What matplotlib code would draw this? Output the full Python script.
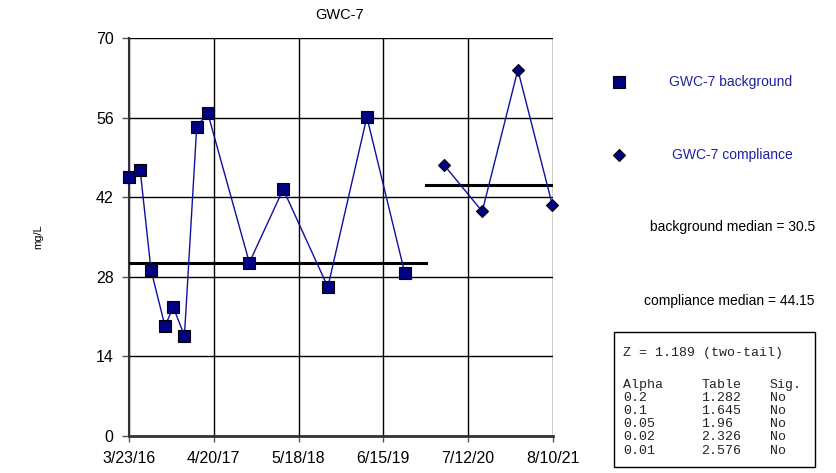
import matplotlib
matplotlib.use("Agg")
import matplotlib.pyplot as plt
from datetime import datetime

plt.rcParams['font.family'] = ['Liberation Sans', 'DejaVu Sans']

# background samples
bg_dates = ["2016-03-23", "2016-05-14", "2016-07-03", "2016-09-06", "2016-10-14",
            "2016-12-05", "2017-01-31", "2017-03-23", "2017-10-02", "2018-03-08",
            "2018-10-01", "2019-03-31", "2019-09-23"]
bg_vals = [45.5, 46.7, 29.2, 19.3, 22.7, 17.6, 54.4, 56.8, 30.5, 43.4, 26.2, 56.1, 28.6]

# compliance samples
cp_dates = ["2020-03-22", "2020-09-16", "2021-02-28", "2021-08-07"]
cp_vals = [47.7, 39.5, 64.4, 40.6]

bg_median = 30.5
cp_median = 44.15
split_date = "2020-01-01"

tick_dates = ["2016-03-23", "2017-04-20", "2018-05-18", "2019-06-15", "2020-07-12", "2021-08-10"]
tick_labels = ["3/23/16", "4/20/17", "5/18/18", "6/15/19", "7/12/20", "8/10/21"]
y_ticks = [0, 14, 28, 42, 56, 70]

alphas = ["0.2", "0.1", "0.05", "0.02", "0.01"]
table_vals = ["1.282", "1.645", "1.96", "2.326", "2.576"]
sig = ["No", "No", "No", "No", "No"]

to_dt = lambda s: [datetime.strptime(d, "%Y-%m-%d") for d in s]
bg_x = to_dt(bg_dates)
cp_x = to_dt(cp_dates)
tx = to_dt(tick_dates)
split = datetime.strptime(split_date, "%Y-%m-%d")

fig = plt.figure(figsize=(8.37, 4.73), dpi=100)
ax = fig.add_axes([129 / 837, 37 / 473, 424 / 837, 398 / 473])

line_c = "#1010A0"
mark_c = "#000080"

ax.plot(bg_x, bg_vals, color=line_c, lw=1, marker="s", ms=8.5,
        mfc=mark_c, mec="black", mew=0.8, zorder=4, clip_on=False)
ax.plot(cp_x, cp_vals, color=line_c, lw=1, marker="D", ms=6.5,
        mfc=mark_c, mec="black", mew=0.8, zorder=4, clip_on=False)

# median lines
ax.plot([bg_x[0], split], [bg_median, bg_median], color="black", lw=2.2, zorder=3)
ax.plot([split, tx[-1]], [cp_median, cp_median], color="black", lw=2.2, zorder=3)

ax.set_xlim(tx[0], tx[-1])
ax.set_ylim(0, 70)
ax.set_xticks(tx)
ax.set_xticklabels(tick_labels, fontsize=11.5)
ax.set_yticks(y_ticks)
ax.set_yticklabels([str(v) for v in y_ticks], fontsize=11.5)
ax.grid(True, color="black", lw=1)
ax.set_axisbelow(True)
ax.tick_params(axis="x", direction="out", length=4, width=1, color="#555555", pad=7)
ax.tick_params(axis="y", direction="out", length=5, width=1, color="#555555", pad=6)
for s in ["top", "right"]:
    ax.spines[s].set_visible(False)
ax.spines["left"].set_color("#333333")
ax.spines["left"].set_linewidth(1.5)
ax.spines["bottom"].set_color("#333333")
ax.spines["bottom"].set_linewidth(2)

fig.text(340 / 837, 1 - 15 / 473, "GWC-7", ha="center", va="center", fontsize=10.5)
fig.text(38 / 837, 1 - 237 / 473, "mg/L", ha="center", va="center", rotation=90, fontsize=8)

# legend-like annotations
fig.lines.append(plt.Line2D([619 / 837], [1 - 82 / 473], marker="s", ms=8, mfc=mark_c,
                            mec="black", mew=0.8, transform=fig.transFigure))
fig.lines.append(plt.Line2D([619 / 837], [1 - 155 / 473], marker="D", ms=6, mfc=mark_c,
                            mec="black", mew=0.8, transform=fig.transFigure))
fig.text(731 / 837, 1 - 82 / 473, "GWC-7 background", ha="center", va="center",
         fontsize=10, color="#2020A0")
fig.text(732 / 837, 1 - 155 / 473, "GWC-7 compliance", ha="center", va="center",
         fontsize=10, color="#2020A0")
fig.text(815 / 837, 1 - 227 / 473, "background median = %s" % bg_median, ha="right",
         va="center", fontsize=10)
fig.text(815 / 837, 1 - 301 / 473, "compliance median = %s" % cp_median, ha="right",
         va="center", fontsize=10)

# stats box
box = plt.Rectangle((614 / 837, 1 - 467 / 473), (815 - 614) / 837, (467 - 332) / 473,
                    transform=fig.transFigure, fill=False, edgecolor="black", lw=1)
fig.patches.append(box)
mono = dict(family="Liberation Mono", fontsize=9.5, va="center", color="#222222")
fig.text(623 / 837, 1 - 353 / 473, "Z = 1.189 (two-tail)", **mono)
row_y = 385
fig.text(623 / 837, 1 - row_y / 473, "Alpha", **mono)
fig.text(701 / 837, 1 - row_y / 473, "Table", **mono)
fig.text(770 / 837, 1 - row_y / 473, "Sig.", **mono)
for i in range(len(alphas)):
    yy = 1 - (row_y + 13.1 * (i + 1)) / 473
    fig.text(623 / 837, yy, alphas[i], **mono)
    fig.text(701 / 837, yy, table_vals[i], **mono)
    fig.text(770 / 837, yy, sig[i], **mono)

fig.savefig("out.png", dpi=100)
